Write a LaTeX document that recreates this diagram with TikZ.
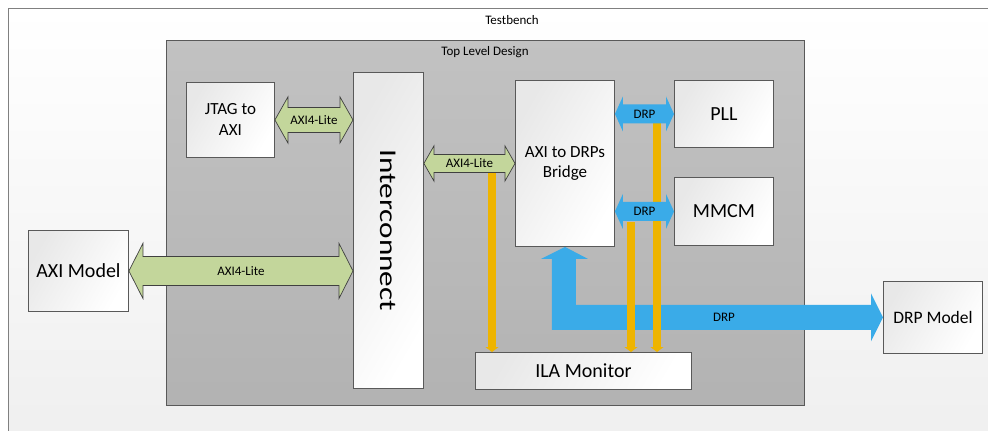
\documentclass[tikz,border=0pt]{standalone}
\usepackage{fontspec}
\setmainfont{Carlito}
\usetikzlibrary{calc,arrows.meta}

\definecolor{benchbg}{HTML}{EFEFEF}
\definecolor{edge}{HTML}{595959}
\definecolor{axigreen}{HTML}{C3D69B}
\definecolor{drpblue}{HTML}{3AABE8}
\definecolor{ilaline}{HTML}{EEB400}

\tikzset{
  blk/.style={draw=edge,line width=0.9pt,left color=black!9,right color=white,
    shading angle=60,anchor=north west,inner sep=0pt,align=center},
  axibus/.style={draw=black!75,line width=0.7pt,fill=axigreen},
  drpbus/.style={fill=drpblue},
  probe/.style={draw=ilaline,line width=8pt,-{Triangle[length=5pt,width=13pt]}},
  buslbl/.style={font=\fontsize{13}{15}\selectfont},
}

% horizontal two-headed bus: style, name, left, right, half shaft, half head, head length, text
\newcommand{\bus}[8]{%
  \path[#1] let \p1=(#3), \p2=(#4) in
    (\x1,\y1) -- (\x1+#7,\y1+#6) -- (\x1+#7,\y1+#5) -- (\x2-#7,\y1+#5) -- (\x2-#7,\y1+#6)
    -- (\x2,\y1) -- (\x2-#7,\y1-#6) -- (\x2-#7,\y1-#5) -- (\x1+#7,\y1-#5) -- (\x1+#7,\y1-#6) -- cycle
    node[buslbl] (#2) at ({(\x1+\x2)/2},\y1) {#8};}

\begin{document}
\begin{tikzpicture}[x=1pt,y=-1pt]
\clip (0,0) rectangle (988,431);
\fill[white] (0,0) rectangle (988,431);

% testbench
\draw[draw=black!50,line width=1pt,top color=white,bottom color=benchbg] (8,8) rectangle (1000,445);
\node (tb) at (512,20) {\fontsize{13}{15}\selectfont Testbench};

% top level design
\draw[draw=edge,line width=1pt,top color=black!24,bottom color=black!30] (166,40) rectangle (804,405);
\node (tld) at (485,52) {\fontsize{13}{15}\selectfont Top Level Design};

% blocks
\node[blk,minimum width=88pt,minimum height=75pt,font=\fontsize{17}{21}\selectfont] (jtag) at (186,82) {JTAG to\\AXI};
\node[blk,minimum width=70pt,minimum height=316pt] (ic) at (353,72) {};
\node[rotate=-90,xscale=1.3,font=\fontsize{24}{28}\selectfont] (iclbl) at (ic.center) {Interconnect};
\node[blk,minimum width=99pt,minimum height=166pt,font=\fontsize{17}{20}\selectfont] (br) at (515,80) {AXI to DRPs\\Bridge};
\node[blk,minimum width=99pt,minimum height=67pt,font=\fontsize{20}{24}\selectfont] (pll) at (674,80) {PLL};
\node[blk,minimum width=99pt,minimum height=68pt,font=\fontsize{20}{24}\selectfont] (mmcm) at (674,177) {MMCM};
\node[blk,minimum width=216pt,minimum height=37pt,font=\fontsize{20}{24}\selectfont] (ila) at (475,352) {ILA Monitor};
\node[blk,minimum width=100pt,minimum height=81pt,font=\fontsize{20}{24}\selectfont] (axim) at (28,230) {AXI Model};
\node[blk,minimum width=99pt,minimum height=72pt,font=\fontsize{17.5}{21}\selectfont] (drpm) at (883,281) {DRP Model};

% DRP link to the model
\path[drpbus] let \p1=(br.south), \p2=(drpm.west) in
  (\x1,\y1) -- (\x1+23pt,\y1-12pt) -- (\x1+11pt,\y1-12pt) -- (\x1+11pt,\y2+12.5pt)
  -- (\x2-12pt,\y2+12.5pt) -- (\x2-12pt,\y2+24pt) -- (\x2,\y2) -- (\x2-12pt,\y2-24pt)
  -- (\x2-12pt,\y2-12.5pt) -- (\x1-13pt,\y2-12.5pt) -- (\x1-13pt,\y1-12pt) -- (\x1-24pt,\y1-12pt) -- cycle
  node[buslbl] (lnkF) at ({(\x1+\x2)/2},\y2) {DRP};

% ILA probes
\coordinate (tapA) at (492,173);
\coordinate (tapB) at (631,222);
\coordinate (tapC) at (657,123);
\foreach \t in {tapA,tapB,tapC}
  \draw[probe] (\t) -- (\t |- ila.north);

% buses
\bus{axibus}{lnkA}{jtag.east}{ic.west |- jtag.east}{12.5pt}{23pt}{13pt}{AXI4-Lite}
\bus{axibus}{lnkB}{axim.east}{ic.west |- axim.east}{14.5pt}{27.5pt}{14pt}{AXI4-Lite}
\bus{axibus}{lnkC}{ic.east |- br.west}{br.west}{9pt}{17.5pt}{10pt}{AXI4-Lite}
\bus{drpbus}{lnkD}{br.east |- pll.west}{pll.west}{9.5pt}{17.5pt}{8pt}{DRP}
\bus{drpbus}{lnkE}{br.east |- mmcm.west}{mmcm.west}{9.5pt}{17.5pt}{8pt}{DRP}
\end{tikzpicture}
\end{document}
